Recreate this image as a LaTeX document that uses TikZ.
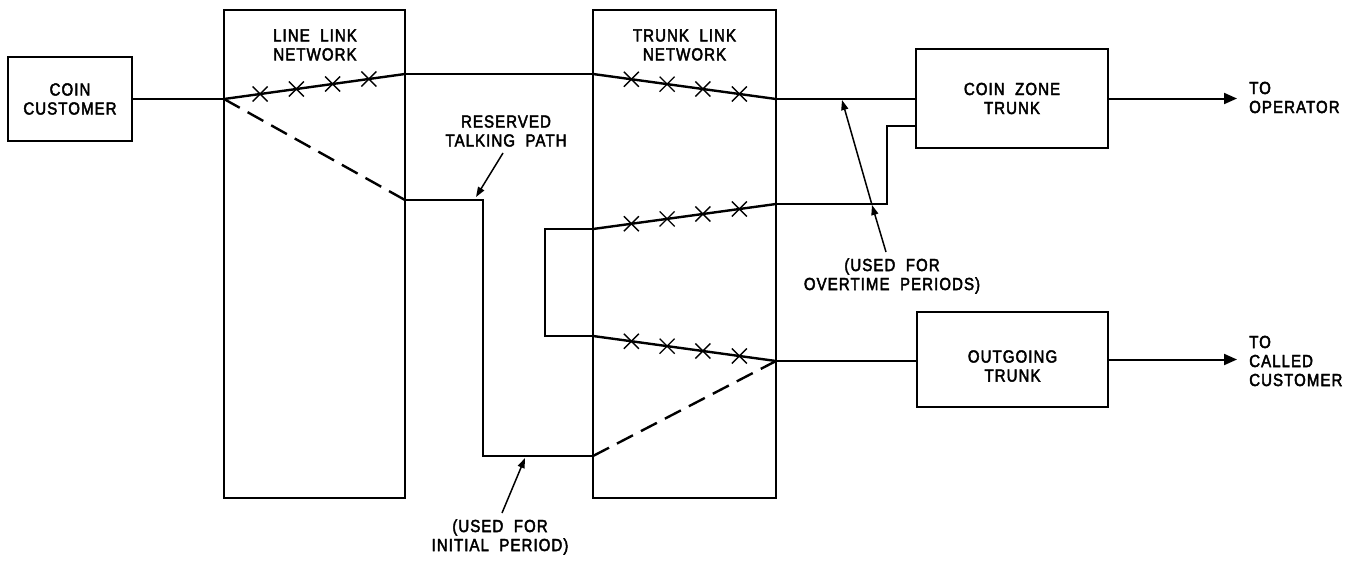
\documentclass[tikz,border=0pt]{standalone}
\usepackage{fontspec}
\setmainfont{Liberation Sans}[LetterSpace=6,FakeBold=2.5,FakeStretch=0.86,WordSpace=2]
\usetikzlibrary{arrows.meta,calc}
\tikzset{
  blk/.style={draw, line width=1.8pt, inner sep=0pt, align=center},
  lbl/.style={inner sep=0pt, align=center},
  wire/.style={line width=2.4pt, line join=miter},
  dwire/.style={line width=2.4pt, dash pattern=on 18pt off 9pt},
  ptr/.style={line width=1.5pt, -{Triangle[length=10pt,width=7pt]}},
  outarrow/.style={line width=2pt, -{Triangle[length=13pt,width=11pt]}},
  xmark/.pic={\draw[line width=1.4pt] (-7.5,-7.5) -- (7.5,7.5) (-7.5,7.5) -- (7.5,-7.5);}
}
\begin{document}
\begin{tikzpicture}[x=1pt,y=-1pt,font=\fontsize{17.5}{19}\selectfont]
\useasboundingbox (0,0) rectangle (1349,560);
% boxes
\node[blk, minimum width=124pt, minimum height=84pt] (cc) at (70,99) {COIN\\CUSTOMER};
\node[blk, minimum width=181pt, minimum height=488pt] (LL) at (314.5,254) {};
\node[blk, minimum width=183pt, minimum height=488pt] (TL) at (684.5,254) {};
\node[blk, minimum width=192pt, minimum height=99pt] (CZ) at (1012,98.5) {COIN ZONE\\TRUNK};
\node[blk, minimum width=191pt, minimum height=95pt] (OG) at (1012.5,359.5) {};
% labels
\node[lbl] (OGt) at (1012.5,366) {OUTGOING\\TRUNK};
\node[lbl] (LLt) at (315,45) {LINE LINK\\NETWORK};
\node[lbl] (TLt) at (684.5,45) {TRUNK LINK\\NETWORK};
\node[lbl, anchor=west, align=left] (op) at (1249,97.5) {TO\\OPERATOR};
\node[lbl, anchor=west, align=left] (cu) at (1249,361) {TO\\CALLED\\CUSTOMER};
\node[lbl] (rt) at (506,131) {RESERVED\\TALKING PATH};
\node[lbl] (ip) at (500,537) {(USED FOR\\INITIAL PERIOD)};
\node[lbl] (ot) at (892,276) {(USED FOR\\OVERTIME PERIODS)};
% junction coordinates
\coordinate (p1) at (224,99);
\coordinate (p2) at (405,74);
\coordinate (p3) at (593,74);
\coordinate (p4) at (776,99);
\coordinate (p5) at (405,200);
\coordinate (p6) at (483,200);
\coordinate (p7) at (483,456);
\coordinate (p8) at (593,456);
\coordinate (p9) at (776,361);
\coordinate (m1) at (545,229);
\coordinate (m2) at (593,229);
\coordinate (m3) at (776,204);
\coordinate (m4) at (887,204);
\coordinate (m5) at (887,126);
\coordinate (n1) at (545,336);
\coordinate (n2) at (593,336);
\coordinate (tOp) at (1237,98.5);
\coordinate (tCu) at (1237,359.5);
% wires
\draw[wire] (cc.east) -- (p1);
\draw[wire] (p1) -- (p2) pic[pos=0.2]{xmark} pic[pos=0.4]{xmark} pic[pos=0.6]{xmark} pic[pos=0.8]{xmark};
\draw[wire] (p2) -- (p3);
\draw[wire] (p3) -- (p4) pic[pos=0.21]{xmark} pic[pos=0.405]{xmark} pic[pos=0.6]{xmark} pic[pos=0.8]{xmark};
\draw[wire] (p4) -- (p4 -| CZ.west);
\draw[dwire] (p1) -- (p5);
\draw[wire] (p5) -- (p6) -- (p7) -- (p8);
\draw[dwire] (p8) -- (p9);
\draw[wire] (m2) -- (m1) -- (n1) -- (n2);
\draw[wire] (m2) -- (m3) pic[pos=0.21]{xmark} pic[pos=0.405]{xmark} pic[pos=0.6]{xmark} pic[pos=0.8]{xmark};
\draw[wire] (n2) -- (p9) pic[pos=0.21]{xmark} pic[pos=0.405]{xmark} pic[pos=0.6]{xmark} pic[pos=0.8]{xmark};
\draw[wire] (m3) -- (m4) -- (m5) -- (m5 -| CZ.west);
\draw[wire] (p9) -- (p9 -| OG.west);
% outputs
\draw[outarrow] (CZ.east) -- (tOp);
\draw[outarrow] (OG.east) -- (tCu);
% pointers
\coordinate (r1) at (503,153);
\coordinate (r2) at (476,197);
\draw[ptr] (r1) -- (r2);
\coordinate (i1) at (502,513);
\coordinate (i2) at (525,458);
\draw[ptr] (i1) -- (i2);
\coordinate (o1) at (886,252);
\coordinate (o2) at (872,205);
\coordinate (o3) at (842,100);
\draw[ptr] (o1) -- (o2);
\draw[ptr] (o2) -- (o3);
\end{tikzpicture}
\end{document}
